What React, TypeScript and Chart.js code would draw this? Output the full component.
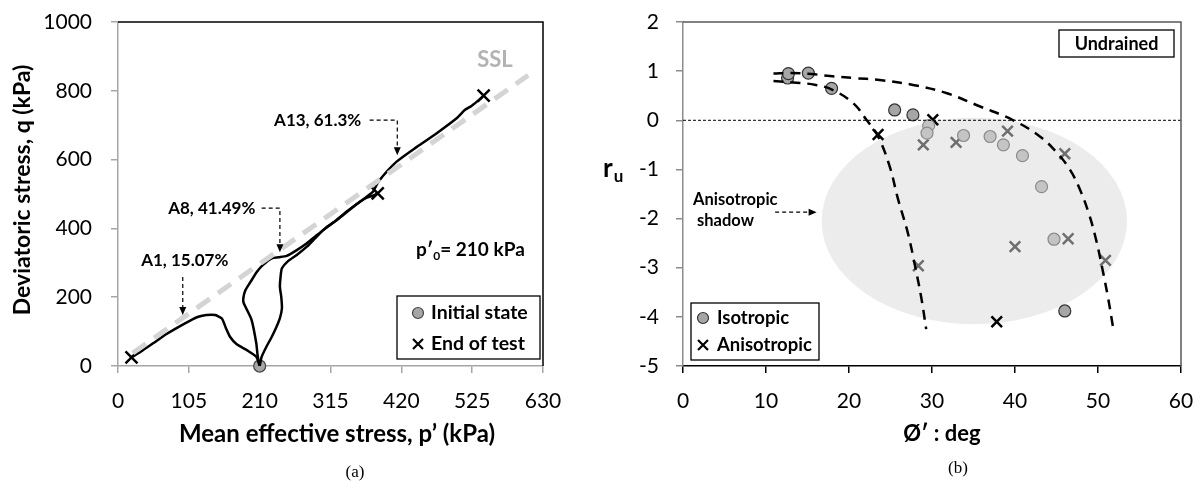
import React, { useEffect, useRef } from "react";
import { Chart, registerables } from "chart.js";

Chart.register(...registerables);

const FONT = "Lato, 'Open Sans', 'DejaVu Sans', sans-serif";

// ---------------- (a) stress paths ----------------
const pTickValues = [0, 105, 210, 315, 420, 525, 630];
const qTickValues = [0, 200, 400, 600, 800, 1000];

const sslP = [22, 608];
const sslQ = [38, 845];

const a1P = [210, 205, 191, 176, 166, 160, 154, 144, 131, 119, 107, 92, 72, 52, 37, 20];
const a1Q = [0, 27, 46, 63, 85, 110, 138, 148, 148, 143, 132, 116, 93, 66, 46, 25];

const a8P = [210, 207, 205, 198, 190, 186, 186, 189, 196, 206, 215, 228, 238, 250, 265, 280, 292, 304, 319, 334, 349, 362, 370, 378, 385];
const a8Q = [0, 30, 66, 134, 168, 185, 200, 221, 243, 274, 294, 313, 316, 320, 337, 357, 376, 395, 417, 439, 463, 482, 490, 495, 502];

const a13P = [210, 213, 220, 228, 235, 240, 243, 242, 240, 241, 243, 252, 265, 280, 292, 307, 324, 339, 359, 378, 386, 413, 443, 472, 502, 514, 524, 536, 542];
const a13Q = [0, 27, 56, 85, 114, 139, 168, 201, 230, 260, 284, 305, 323, 347, 371, 400, 424, 449, 478, 507, 536, 594, 637, 676, 720, 744, 756, 775, 786];

const initialP = [210];
const initialQ = [0];
const endP = [20, 385, 542];
const endQ = [25, 502, 786];

// ---------------- (b) r_u vs friction angle ----------------
const phiTickValues = [0, 10, 20, 30, 40, 50, 60];
const ruTickValues = [-5, -4, -3, -2, -1, 0, 1, 2];

const zeroPhi = [0, 60];
const zeroRu = [0, 0];

const upperPhi = [10.9, 13, 15.5, 17.7, 20.5, 23.7, 27.7, 31.8, 35.8, 39.8, 43, 45, 46.6, 47.8, 48.9, 49.8, 50.5, 51.2, 51.8];
const upperRu = [0.95, 0.96, 0.94, 0.9, 0.86, 0.82, 0.72, 0.55, 0.28, 0.0, -0.33, -0.65, -1.0, -1.4, -1.9, -2.45, -3.0, -3.6, -4.2];

const lowerPhi = [10.9, 13.3, 16, 18, 20.5, 22.1, 23.5, 24.9, 25.9, 27.1, 28.0, 28.7, 29.3];
const lowerRu = [0.8, 0.77, 0.72, 0.62, 0.35, 0.01, -0.33, -0.94, -1.6, -2.3, -3.0, -3.6, -4.25];

const isoPhi = [12.6, 12.7, 15.1, 17.9, 25.5, 27.7, 46.0];
const isoRu = [0.86, 0.95, 0.96, 0.65, 0.21, 0.11, -3.88];
const isoShadowPhi = [29.6, 29.4, 33.8, 37.0, 38.6, 40.9, 43.2, 44.7];
const isoShadowRu = [-0.11, -0.26, -0.31, -0.33, -0.5, -0.72, -1.35, -2.42];

const anisoPhi = [23.5, 30.1, 37.8];
const anisoRu = [-0.29, 0.01, -4.1];
const anisoShadowPhi = [28.95, 32.9, 39.1, 46.0, 40.0, 46.4, 28.35, 50.9];
const anisoShadowRu = [-0.5, -0.45, -0.22, -0.68, -2.57, -2.41, -2.96, -2.85];

// shadow ellipse (data units): centre and semi-axes
const shadowCentre = [35.1, -2.05];
const shadowSemiAxes = [18.4, 2.1];

// ---------------- helpers ----------------
const xy = (xs: number[], ys: number[]) => xs.map((x, i) => ({ x, y: ys[i] }));

function arrow(ctx: CanvasRenderingContext2D, pts: number[][]) {
  ctx.save();
  ctx.strokeStyle = "#000";
  ctx.fillStyle = "#000";
  ctx.lineWidth = 1.2;
  ctx.setLineDash([4, 3]);
  const n = pts.length;
  const [x1, y1] = pts[n - 2];
  const [x2, y2] = pts[n - 1];
  const ang = Math.atan2(y2 - y1, x2 - x1);
  const L = 8;
  const W = 3.5;
  ctx.beginPath();
  pts.forEach(([x, y], i) => {
    if (i === 0) ctx.moveTo(x, y);
    else if (i === n - 1) ctx.lineTo(x - L * Math.cos(ang), y - L * Math.sin(ang));
    else ctx.lineTo(x, y);
  });
  ctx.stroke();
  ctx.setLineDash([]);
  ctx.beginPath();
  ctx.moveTo(x2, y2);
  ctx.lineTo(x2 - L * Math.cos(ang) + W * Math.sin(ang), y2 - L * Math.sin(ang) - W * Math.cos(ang));
  ctx.lineTo(x2 - L * Math.cos(ang) - W * Math.sin(ang), y2 - L * Math.sin(ang) + W * Math.cos(ang));
  ctx.closePath();
  ctx.fill();
  ctx.restore();
}

function text(ctx: CanvasRenderingContext2D, s: string, x: number, y: number, font: string, align: CanvasTextAlign = "center", color = "#000") {
  ctx.save();
  ctx.font = font;
  ctx.fillStyle = color;
  ctx.textAlign = align;
  ctx.textBaseline = "middle";
  ctx.fillText(s, x, y);
  ctx.restore();
}

function circleMark(ctx: CanvasRenderingContext2D, x: number, y: number, r: number, fill: string, stroke: string) {
  ctx.save();
  ctx.beginPath();
  ctx.arc(x, y, r, 0, Math.PI * 2);
  ctx.fillStyle = fill;
  ctx.fill();
  ctx.lineWidth = 1.2;
  ctx.strokeStyle = stroke;
  ctx.stroke();
  ctx.restore();
}

function crossMark(ctx: CanvasRenderingContext2D, x: number, y: number, h: number, color: string, w = 2.5) {
  ctx.save();
  ctx.strokeStyle = color;
  ctx.lineWidth = w;
  ctx.beginPath();
  ctx.moveTo(x - h, y - h);
  ctx.lineTo(x + h, y + h);
  ctx.moveTo(x + h, y - h);
  ctx.lineTo(x - h, y + h);
  ctx.stroke();
  ctx.restore();
}

function frameBox(ctx: CanvasRenderingContext2D, x: number, y: number, w: number, h: number) {
  ctx.save();
  ctx.fillStyle = "#fff";
  ctx.fillRect(x, y, w, h);
  ctx.strokeStyle = "#000";
  ctx.lineWidth = 1.3;
  ctx.strokeRect(x, y, w, h);
  ctx.restore();
}

const tickFont = { family: FONT, size: 21 };

function axis(min: number, max: number, values: number[], size: number, isX: boolean, axisColor: string, tickColor: string, pad: number) {
  return {
    type: "linear" as const,
    min,
    max,
    afterBuildTicks: (s: any) => {
      s.ticks = values.map((v) => ({ value: v }));
    },
    afterFit: (s: any) => {
      if (isX) s.height = size;
      else s.width = size;
      s.paddingTop = 0;
      s.paddingBottom = 0;
      s.paddingLeft = 0;
      s.paddingRight = 0;
    },
    grid: { display: true, drawOnChartArea: false, drawTicks: true, tickLength: 7, color: tickColor, lineWidth: 1.5 },
    border: { display: true, color: axisColor, width: 1.5 },
    ticks: { color: "#000", font: tickFont, padding: pad, autoSkip: false, maxRotation: 0, callback: (v: any) => String(v) },
  };
}

// ---------------- left chart decorations ----------------
const leftNotes = [
  { label: "A13, 61.3%", at: [296, 715], path: [[373, 715], [414, 715], [414, 613]] },
  { label: "A8, 41.49%", at: [139, 459], path: [[213, 459], [240, 459], [240, 331]] },
  { label: "A1, 15.07%", at: [99, 308], path: [[96, 259], [96, 148]] },
];

const leftDecor = {
  id: "leftDecor",
  afterDraw(chart: any) {
    const { ctx, chartArea: a, scales } = chart;
    const X = scales.x;
    const Y = scales.y;
    const px = (v: number) => X.getPixelForValue(v);
    const py = (v: number) => Y.getPixelForValue(v);
    ctx.save();
    ctx.strokeStyle = "#000";
    ctx.lineWidth = 1.5;
    ctx.beginPath();
    ctx.moveTo(a.left, a.top);
    ctx.lineTo(a.right, a.top);
    ctx.lineTo(a.right, a.bottom);
    ctx.stroke();
    ctx.restore();

    // axis titles
    ctx.save();
    ctx.translate(23, 190);
    ctx.rotate(-Math.PI / 2);
    text(ctx, "Deviatoric stress, q (kPa)", 0, 0, `bold 23px ${FONT}`);
    ctx.restore();
    text(ctx, "Mean effective stress, p’ (kPa)", 337, 434, `bold 24px ${FONT}`);
    text(ctx, "(a)", 355, 473, "17px 'Liberation Serif', 'Times New Roman', serif");

    // SSL label
    text(ctx, "SSL", 495, 60, `bold 22px ${FONT}`, "center", "#b3b3b3");

    // annotations
    leftNotes.forEach((n) => {
      text(ctx, n.label, px(n.at[0]), py(n.at[1]), `bold 17px ${FONT}`);
      arrow(ctx, n.path.map(([p, q]) => [px(p), py(q)]));
    });

    // p'0 = 210 kPa
    ctx.save();
    ctx.fillStyle = "#000";
    ctx.textBaseline = "alphabetic";
    let x = 416;
    const base = 256;
    ctx.font = `bold 19px ${FONT}`;
    ctx.fillText("p′", x, base);
    x += ctx.measureText("p′").width;
    ctx.font = `bold 12px ${FONT}`;
    ctx.fillText("0", x, base + 4);
    x += ctx.measureText("0").width;
    ctx.font = `bold 19px ${FONT}`;
    ctx.fillText("= 210 kPa", x, base);
    ctx.restore();

    // legend
    frameBox(ctx, 397, 296, 143, 63);
    circleMark(ctx, 418, 313, 5.5, "#a6a6a6", "#444");
    text(ctx, "Initial state", 431, 313, `bold 19.5px ${FONT}`, "left");
    crossMark(ctx, 418, 344, 5, "#000", 2.2);
    text(ctx, "End of test", 431, 344, `bold 19.5px ${FONT}`, "left");
  },
};

function leftConfig(): any {
  return {
    type: "scatter",
    data: {
      datasets: [
        { data: xy(sslP, sslQ), showLine: true, borderColor: "#d4d4d4", borderWidth: 5, borderDash: [16, 10], pointRadius: 0, clip: false },
        { data: xy(a1P, a1Q), showLine: true, borderColor: "#000", borderWidth: 2.5, pointRadius: 0, tension: 0.2 },
        { data: xy(a8P, a8Q), showLine: true, borderColor: "#000", borderWidth: 2.5, pointRadius: 0, tension: 0.2 },
        { data: xy(a13P, a13Q), showLine: true, borderColor: "#000", borderWidth: 2.5, pointRadius: 0, tension: 0.2 },
        { data: xy(initialP, initialQ), pointStyle: "circle", pointRadius: 6, backgroundColor: "#a6a6a6", borderColor: "#444", borderWidth: 1.2, clip: false },
        { data: xy(endP, endQ), pointStyle: "crossRot", pointRadius: 8.5, borderColor: "#000", borderWidth: 2.5, clip: false },
      ],
    },
    options: {
      animation: false,
      responsive: false,
      maintainAspectRatio: false,
      layout: { padding: { left: 0, right: 57, top: 22, bottom: 0 } },
      plugins: { legend: { display: false }, tooltip: { enabled: false } },
      scales: {
        x: axis(0, 630, pTickValues, 115, true, "#a6a6a6", "#a6a6a6", 16),
        y: axis(0, 1000, qTickValues, 118, false, "#a6a6a6", "#a6a6a6", 19),
      },
    },
    plugins: [leftDecor],
  };
}

// ---------------- right chart decorations ----------------
const rightShadow = {
  id: "rightShadow",
  beforeDatasetsDraw(chart: any) {
    const { ctx, scales } = chart;
    const X = scales.x;
    const Y = scales.y;
    const cx = X.getPixelForValue(shadowCentre[0]);
    const cy = Y.getPixelForValue(shadowCentre[1]);
    const rx = Math.abs(X.getPixelForValue(shadowCentre[0] + shadowSemiAxes[0]) - cx);
    const ry = Math.abs(Y.getPixelForValue(shadowCentre[1] + shadowSemiAxes[1]) - cy);
    ctx.save();
    ctx.fillStyle = "#ececec";
    ctx.beginPath();
    ctx.ellipse(cx, cy, rx, ry, 0, 0, Math.PI * 2);
    ctx.fill();
    ctx.restore();
  },
};

const shadowArrow = [[11.1, -1.87], [16.1, -1.87]];

const rightDecor = {
  id: "rightDecor",
  afterDraw(chart: any) {
    const { ctx, chartArea: a, scales } = chart;
    const X = scales.x;
    const Y = scales.y;
    ctx.save();
    ctx.strokeStyle = "#595959";
    ctx.lineWidth = 1.5;
    ctx.beginPath();
    ctx.moveTo(a.left, a.top);
    ctx.lineTo(a.right, a.top);
    ctx.lineTo(a.right, a.bottom);
    ctx.stroke();
    ctx.restore();

    // r_u
    ctx.save();
    ctx.fillStyle = "#000";
    ctx.textBaseline = "alphabetic";
    ctx.font = `bold 26px ${FONT}`;
    ctx.fillText("r", 3, 177);
    const w = ctx.measureText("r").width;
    ctx.font = `bold 17px ${FONT}`;
    ctx.fillText("u", 3 + w + 1, 182);
    ctx.restore();

    text(ctx, "Ø′ : deg", 342, 434, `bold 22px ${FONT}`);
    text(ctx, "(b)", 358, 469, "17px 'Liberation Serif', 'Times New Roman', serif");

    // Undrained box
    frameBox(ctx, 459, 30, 115, 27);
    text(ctx, "Undrained", 516.5, 44, `bold 18px ${FONT}`);

    // shadow label
    text(ctx, "Anisotropic", 93, 200, `bold 16.5px ${FONT}`, "left");
    text(ctx, "shadow", 97, 221, `bold 16.5px ${FONT}`, "left");
    arrow(ctx, shadowArrow.map(([p, r]) => [X.getPixelForValue(p), Y.getPixelForValue(r)]));

    // legend
    frameBox(ctx, 91, 303, 128, 57);
    circleMark(ctx, 103, 318, 5.5, "#a6a6a6", "#333");
    text(ctx, "Isotropic", 117, 318, `bold 18.5px ${FONT}`, "left");
    crossMark(ctx, 103, 345, 5, "#000", 2.2);
    text(ctx, "Anisotropic", 117, 345, `bold 18.5px ${FONT}`, "left");
  },
};

function rightConfig(): any {
  return {
    type: "scatter",
    data: {
      datasets: [
        { data: xy(zeroPhi, zeroRu), showLine: true, borderColor: "#000", borderWidth: 1, borderDash: [3, 2], pointRadius: 0 },
        { data: xy(upperPhi, upperRu), showLine: true, borderColor: "#000", borderWidth: 2.5, borderDash: [10, 7], pointRadius: 0, tension: 0.4 },
        { data: xy(lowerPhi, lowerRu), showLine: true, borderColor: "#000", borderWidth: 2.5, borderDash: [10, 7], pointRadius: 0, tension: 0.4 },
        { data: xy(isoShadowPhi, isoShadowRu), pointStyle: "circle", pointRadius: 6, backgroundColor: "#c4c4c4", borderColor: "#8a8a8a", borderWidth: 1.2 },
        { data: xy(anisoShadowPhi, anisoShadowRu), pointStyle: "crossRot", pointRadius: 7.5, borderColor: "#6e6e6e", borderWidth: 2.5 },
        { data: xy(isoPhi, isoRu), pointStyle: "circle", pointRadius: 6, backgroundColor: "#a6a6a6", borderColor: "#333", borderWidth: 1.2 },
        { data: xy(anisoPhi, anisoRu), pointStyle: "crossRot", pointRadius: 7.5, borderColor: "#000", borderWidth: 2.5 },
      ],
    },
    options: {
      animation: false,
      responsive: false,
      maintainAspectRatio: false,
      layout: { padding: { left: 0, right: 22, top: 22, bottom: 0 } },
      plugins: { legend: { display: false }, tooltip: { enabled: false } },
      scales: {
        x: axis(0, 60, phiTickValues, 115, true, "#000", "#000", 16),
        y: axis(-5, 2, ruTickValues, 83, false, "#8c8c8c", "#8c8c8c", 17),
      },
    },
    plugins: [rightShadow, rightDecor],
  };
}

export default function App() {
  const leftRef = useRef<HTMLCanvasElement>(null);
  const rightRef = useRef<HTMLCanvasElement>(null);
  useEffect(() => {
    const c1 = new Chart(leftRef.current as HTMLCanvasElement, leftConfig());
    const c2 = new Chart(rightRef.current as HTMLCanvasElement, rightConfig());
    return () => {
      c1.destroy();
      c2.destroy();
    };
  }, []);
  return (
    <div style={{ position: "fixed", left: 0, top: 0, width: 1203, height: 481, background: "#fff" }}>
      <canvas ref={leftRef} width={600} height={481} style={{ position: "absolute", left: 0, top: 0, width: 600, height: 481 }} />
      <canvas ref={rightRef} width={603} height={481} style={{ position: "absolute", left: 600, top: 0, width: 603, height: 481 }} />
    </div>
  );
}
